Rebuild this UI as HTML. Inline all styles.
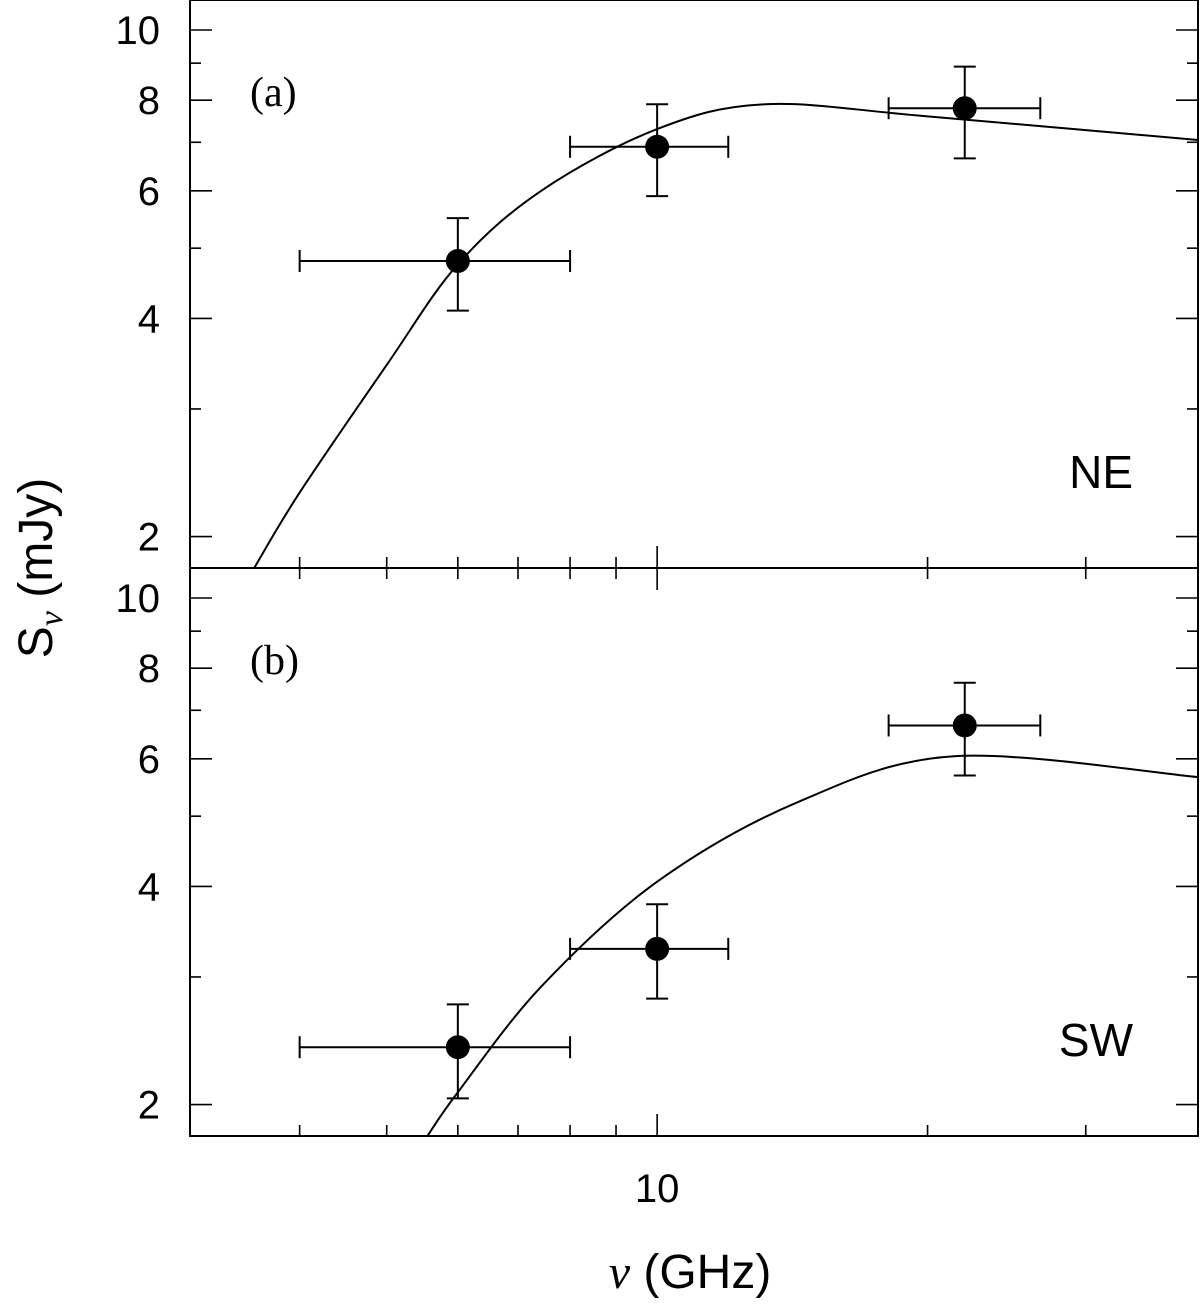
<!DOCTYPE html>
<html><head><meta charset="utf-8"><style>
html,body{margin:0;padding:0;background:#fff;}
svg{display:block;font-family:"Liberation Sans",sans-serif;}
</style></head><body>
<svg id="c" width="1200" height="1305" viewBox="0 0 1200 1305"></svg>
<script>
const xTicksMajor=[10];
const xTicksMinor=[4,5,6,7,8,9,20,30];
const xTickLabels=["10"];
const yTicksMajor=[2,4,6,8,10];
const yTicksMinor=[3,5,7,9];
const yTickLabels=["2","4","6","8","10"];
const neX=[6,10,22], neY=[4.8,6.9,7.8];
const neXlo=[4,8,18.1], neXhi=[8,12,26.7];
const neYlo=[4.1,5.9,6.65], neYhi=[5.5,7.9,8.9];
const swX=[6,10,22], swY=[2.4,3.28,6.67];
const swXlo=[4,8,18.1], swXhi=[8,12,26.7];
const swYlo=[2.04,2.8,5.69], swYhi=[2.75,3.78,7.64];
const neCurveX=[3.56,4.0,5.0,6,7.43,10,13.2,20,40];
const neCurveY=[1.81,2.3,3.45,4.75,6.0,7.3,7.9,7.6,7.05];
const swCurveX=[5.55,6,7.43,10,14.4,21.5,40];
const swCurveY=[1.81,2.08,2.91,4.06,5.24,6.05,5.66];

const NS="http://www.w3.org/2000/svg";
const svg=document.getElementById('c');
const L=190,R=1198,XMIN=3.02,XMAX=40,YMIN=1.81,YMAX=11.0;
function xs(v){return L+(Math.log10(v)-Math.log10(XMIN))/(Math.log10(XMAX)-Math.log10(XMIN))*(R-L);}
function mk(t,a,p){const e=document.createElementNS(NS,t);for(const k in a)e.setAttribute(k,a[k]);(p||svg).appendChild(e);return e;}
function panel(top,bot,name,lab,tag,X,Y,Xlo,Xhi,Ylo,Yhi,CX,CY,first){
  const ys=v=>bot-(Math.log10(v)-Math.log10(YMIN))/(Math.log10(YMAX)-Math.log10(YMIN))*(bot-top);
  const g=mk('g',{});
  
  
  const fr=mk('rect',{x:L,y:top,width:R-L,height:bot-top,fill:'none',stroke:'#000','stroke-width':2},g);
  
  
  const tk=(x1,y1,x2,y2)=>mk('line',{x1,y1,x2,y2,stroke:'#000','stroke-width':1.6},g);
  yTicksMajor.forEach((v,i)=>{const y=ys(v);tk(L,y,L+22,y);tk(R,y,R-22,y);
    const t=mk('text',{x:160,y:y+14,'text-anchor':'end','font-size':40},g);t.textContent=yTickLabels[i];
    
    });
  yTicksMinor.forEach(v=>{const y=ys(v);tk(L,y,L+11,y);tk(R,y,R-11,y);});
  xTicksMajor.forEach(v=>{const x=xs(v);tk(x,bot,x,bot-22);if(!first)tk(x,top,x,top+22);});
  xTicksMinor.forEach(v=>{const x=xs(v);tk(x,bot,x,bot-11);if(!first)tk(x,top,x,top+11);});
  const lx=CX.map(v=>Math.log10(v)),ly=CY.map(v=>Math.log10(v));
  const pts=lx.map((v,i)=>[xs(CX[i]),ys(CY[i])]);
  let d='M'+pts[0][0]+','+pts[0][1];
  for(let i=0;i<pts.length-1;i++){const p0=pts[Math.max(0,i-1)],p1=pts[i],p2=pts[i+1],p3=pts[Math.min(pts.length-1,i+2)];
    d+=' C'+(p1[0]+(p2[0]-p0[0])/6)+','+(p1[1]+(p2[1]-p0[1])/6)+' '+(p2[0]-(p3[0]-p1[0])/6)+','+(p2[1]-(p3[1]-p1[1])/6)+' '+p2[0]+','+p2[1];}
  const cp=mk('path',{d,fill:'none',stroke:'#000','stroke-width':2},g);
  
  
  X.forEach((v,i)=>{const x=xs(v),y=ys(Y[i]);
    const e=mk('g',{},g);
    
    
    const l=(a,b,c,d2)=>mk('line',{x1:a,y1:b,x2:c,y2:d2,stroke:'#000','stroke-width':2},e);
    const x1=xs(Xlo[i]),x2=xs(Xhi[i]),y1=ys(Ylo[i]),y2=ys(Yhi[i]);
    l(x1,y,x2,y);l(x1,y-11,x1,y+11);l(x2,y-11,x2,y+11);
    l(x,y1,x,y2);l(x-11,y1,x+11,y1);l(x-11,y2,x+11,y2);
    mk('circle',{cx:x,cy:y,r:12,fill:'#000'},e);});
  const t1=mk('text',{x:250,y:top+106,'font-size':42,'font-family':'Liberation Serif, serif'},g);t1.textContent=lab;
  
  
  const t2=mk('text',{x:1133,y:bot-80,'text-anchor':'end','font-size':46},g);t2.textContent=tag;
  
  
}
panel(0,568,'panel-ne','(a)','NE',neX,neY,neXlo,neXhi,neYlo,neYhi,neCurveX,neCurveY,true);
panel(568,1136,'panel-sw','(b)','SW',swX,swY,swXlo,swXhi,swYlo,swYhi,swCurveX,swCurveY,false);
xTicksMajor.forEach((v,i)=>{const t=mk('text',{x:xs(v),y:1202,'text-anchor':'middle','font-size':40});t.textContent=xTickLabels[i];
  
  });
const xt=mk('text',{x:690,y:1288,'text-anchor':'middle','font-size':48});
xt.innerHTML='<tspan font-family="Liberation Serif, serif" font-style="italic">ν</tspan>  (GHz)';


const yt=mk('text',{x:0,y:0,'text-anchor':'middle','font-size':48,transform:'translate(52,568) rotate(-90)'});
yt.innerHTML='S<tspan font-size="34" dy="10" font-family="Liberation Serif, serif" font-style="italic">ν</tspan><tspan dy="-10">  (mJy)</tspan>';


</script>
</body></html>
